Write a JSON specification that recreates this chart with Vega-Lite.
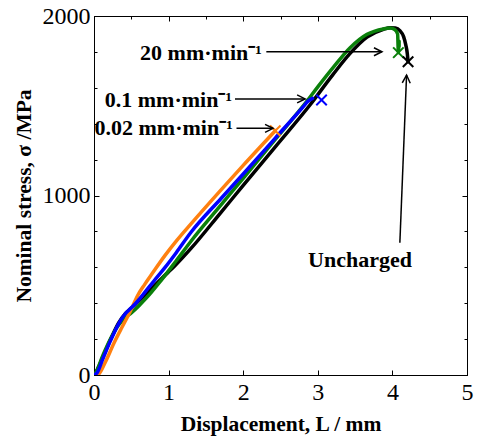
{
  "$schema": "https://vega.github.io/schema/vega-lite/v6.json",
  "width": 373,
  "height": 359,
  "autosize": {"type": "none"},
  "padding": {"left": 94, "top": 16, "right": 13, "bottom": 62},
  "background": "white",
  "config": {
    "view": {"stroke": "black", "strokeWidth": 1},
    "font": "Liberation Serif",
    "axis": {
      "grid": false,
      "domainColor": "black",
      "tickColor": "black",
      "tickWidth": 1,
      "labelColor": "black",
      "titleColor": "black",
      "labelFont": "Liberation Serif",
      "titleFont": "Liberation Serif",
      "labelFontSize": 24,
      "titleFontSize": 21.5,
      "titleFontWeight": "bold",
      "labelFlush": false,
      "labelOverlap": false
    }
  },
  "datasets": {
    "curves": [
      {"s": "Uncharged", "x": 0, "y": 0}, {"s": "Uncharged", "x": 0.05, "y": 35}, {"s": "Uncharged", "x": 0.12, "y": 100}, {"s": "Uncharged", "x": 0.22, "y": 196}, {"s": "Uncharged", "x": 0.33, "y": 290}, {"s": "Uncharged", "x": 0.42, "y": 342}, {"s": "Uncharged", "x": 0.47, "y": 362}, {"s": "Uncharged", "x": 0.55, "y": 392}, {"s": "Uncharged", "x": 0.7, "y": 452}, {"s": "Uncharged", "x": 0.9, "y": 535}, {"s": "Uncharged", "x": 1.1, "y": 615}, {"s": "Uncharged", "x": 1.3, "y": 705}, {"s": "Uncharged", "x": 1.7, "y": 905}, {"s": "Uncharged", "x": 2.0, "y": 1056}, {"s": "Uncharged", "x": 2.43, "y": 1271}, {"s": "Uncharged", "x": 2.895, "y": 1504}, {"s": "Uncharged", "x": 3.2, "y": 1672}, {"s": "Uncharged", "x": 3.43, "y": 1790}, {"s": "Uncharged", "x": 3.66, "y": 1882}, {"s": "Uncharged", "x": 3.88, "y": 1926}, {"s": "Uncharged", "x": 3.97, "y": 1935}, {"s": "Uncharged", "x": 4.04, "y": 1933}, {"s": "Uncharged", "x": 4.1, "y": 1918}, {"s": "Uncharged", "x": 4.15, "y": 1885}, {"s": "Uncharged", "x": 4.18, "y": 1838}, {"s": "Uncharged", "x": 4.2, "y": 1790}, {"s": "Uncharged", "x": 4.21, "y": 1745},
      {"s": "20", "x": 0, "y": 0}, {"s": "20", "x": 0.03, "y": 18}, {"s": "20", "x": 0.12, "y": 110}, {"s": "20", "x": 0.22, "y": 200}, {"s": "20", "x": 0.33, "y": 278}, {"s": "20", "x": 0.42, "y": 320}, {"s": "20", "x": 0.5, "y": 346}, {"s": "20", "x": 0.6, "y": 385}, {"s": "20", "x": 0.7, "y": 428}, {"s": "20", "x": 0.89, "y": 522}, {"s": "20", "x": 1.1, "y": 635}, {"s": "20", "x": 1.3, "y": 745}, {"s": "20", "x": 1.7, "y": 946}, {"s": "20", "x": 2.0, "y": 1096}, {"s": "20", "x": 2.43, "y": 1312}, {"s": "20", "x": 2.85, "y": 1523}, {"s": "20", "x": 3.0, "y": 1605}, {"s": "20", "x": 3.21, "y": 1715}, {"s": "20", "x": 3.43, "y": 1822}, {"s": "20", "x": 3.66, "y": 1898}, {"s": "20", "x": 3.88, "y": 1928}, {"s": "20", "x": 3.97, "y": 1933}, {"s": "20", "x": 4.03, "y": 1925}, {"s": "20", "x": 4.07, "y": 1900}, {"s": "20", "x": 4.09, "y": 1860}, {"s": "20", "x": 4.09, "y": 1830}, {"s": "20", "x": 4.08, "y": 1796},
      {"s": "0.02", "x": 0, "y": 0}, {"s": "0.02", "x": 0.06, "y": 5}, {"s": "0.02", "x": 0.15, "y": 70}, {"s": "0.02", "x": 0.27, "y": 180}, {"s": "0.02", "x": 0.37, "y": 262}, {"s": "0.02", "x": 0.45, "y": 325}, {"s": "0.02", "x": 0.52, "y": 385}, {"s": "0.02", "x": 0.58, "y": 439}, {"s": "0.02", "x": 0.68, "y": 505}, {"s": "0.02", "x": 0.78, "y": 565}, {"s": "0.02", "x": 0.95, "y": 665}, {"s": "0.02", "x": 1.11, "y": 750}, {"s": "0.02", "x": 1.3, "y": 842}, {"s": "0.02", "x": 1.7, "y": 1030}, {"s": "0.02", "x": 2.0, "y": 1168}, {"s": "0.02", "x": 2.43, "y": 1361},
      {"s": "0.1", "x": 0, "y": 0}, {"s": "0.1", "x": 0.04, "y": 12}, {"s": "0.1", "x": 0.12, "y": 92}, {"s": "0.1", "x": 0.22, "y": 190}, {"s": "0.1", "x": 0.33, "y": 285}, {"s": "0.1", "x": 0.42, "y": 342}, {"s": "0.1", "x": 0.47, "y": 362}, {"s": "0.1", "x": 0.56, "y": 400}, {"s": "0.1", "x": 0.67, "y": 455}, {"s": "0.1", "x": 0.8, "y": 522}, {"s": "0.1", "x": 0.95, "y": 598}, {"s": "0.1", "x": 1.1, "y": 680}, {"s": "0.1", "x": 1.3, "y": 795}, {"s": "0.1", "x": 1.7, "y": 982}, {"s": "0.1", "x": 2.0, "y": 1120}, {"s": "0.1", "x": 2.43, "y": 1320}, {"s": "0.1", "x": 2.8, "y": 1492}, {"s": "0.1", "x": 2.87, "y": 1526}, {"s": "0.1", "x": 2.93, "y": 1541}
    ],
    "ends": [
      {"s": "0.02", "x": 2.43, "y": 1361},
      {"s": "0.1", "x": 3.05, "y": 1532},
      {"s": "20", "x": 4.08, "y": 1796},
      {"s": "Uncharged", "x": 4.21, "y": 1745}
    ],
    "rateLabels": [
      {"t": "20 mm·min⁻¹", "x": 2.25, "y": 1794},
      {"t": "0.1 mm·min⁻¹", "x": 1.85, "y": 1532},
      {"t": "0.02 mm·min⁻¹", "x": 1.86, "y": 1376}
    ],
    "uncharged": [
      {"t": "Uncharged", "x": 3.565, "y": 640}
    ],
    "hArrows": [
      {"x": 2.31, "x2": 3.86, "y": 1801},
      {"x": 1.89, "x2": 2.83, "y": 1538},
      {"x": 1.91, "x2": 2.40, "y": 1374}
    ],
    "vArrow": [
      {"x": 4.10, "y": 737, "x2": 4.19, "y2": 1671}
    ]
  },
  "layer": [
    {
      "data": {"name": "curves"},
      "mark": {"type": "line", "strokeWidth": 3.5, "strokeCap": "round", "strokeJoin": "round", "interpolate": "monotone", "clip": true},
      "encoding": {
        "x": {
          "field": "x", "type": "quantitative",
          "scale": {"domain": [0, 5], "nice": false, "zero": false},
          "axis": {
            "orient": "bottom",
            "values": [0, 0.5, 1, 1.5, 2, 2.5, 3, 3.5, 4, 4.5, 5],
            "format": "d",
            "labelExpr": "datum.value % 1 === 0 ? datum.label : ''",
            "tickSize": {"condition": {"test": "datum.value % 1 === 0", "value": -5}, "value": -3},
            "labelPadding": 10,
            "title": "Displacement, L / mm",
            "titlePadding": 9
          }
        },
        "y": {
          "field": "y", "type": "quantitative",
          "scale": {"domain": [0, 2000], "nice": false, "zero": false},
          "axis": {
            "orient": "left",
            "values": [0, 200, 400, 600, 800, 1000, 1200, 1400, 1600, 1800, 2000],
            "labelExpr": "datum.value % 1000 === 0 ? datum.label : ''",
            "format": "d",
            "tickSize": {"condition": {"test": "datum.value % 1000 === 0", "value": -5}, "value": -3},
            "labelPadding": 9,
            "title": "Nominal stress, σ /MPa",
            "titlePadding": 7
          }
        },
        "color": {
          "field": "s", "type": "nominal",
          "scale": {"domain": ["Uncharged", "20", "0.02", "0.1"], "range": ["#000000", "#0a800a", "#ff8010", "#0000ff"]},
          "legend": null
        },
        "strokeWidth": {
          "field": "s", "type": "nominal",
          "scale": {"domain": ["Uncharged", "20", "0.02", "0.1"], "range": [4.5, 4, 3, 3]},
          "legend": null
        }
      }
    },
    {
      "data": {"name": "ends"},
      "mark": {"type": "point", "shape": "M-1,-1L1,1M-1,1L1,-1", "size": 110, "strokeWidth": 2, "filled": false, "opacity": 1},
      "encoding": {
        "x": {
          "field": "x", "type": "quantitative",
          "axis": {
            "orient": "top",
            "values": [0, 0.5, 1, 1.5, 2, 2.5, 3, 3.5, 4, 4.5, 5],
            "labels": false,
            "tickSize": {"condition": {"test": "datum.value % 1 === 0", "value": -5}, "value": -3},
            "title": null
          }
        },
        "y": {
          "field": "y", "type": "quantitative",
          "axis": {
            "orient": "right",
            "values": [0, 200, 400, 600, 800, 1000, 1200, 1400, 1600, 1800, 2000],
            "labels": false,
            "tickSize": {"condition": {"test": "datum.value % 1000 === 0", "value": -5}, "value": -3},
            "title": null
          }
        },
        "color": {"field": "s", "type": "nominal", "legend": null}
      }
    },
    {
      "data": {"name": "hArrows"},
      "mark": {"type": "rule", "color": "black", "strokeWidth": 1.5},
      "encoding": {
        "x": {"field": "x", "type": "quantitative", "axis": null},
        "x2": {"field": "x2"},
        "y": {"field": "y", "type": "quantitative", "axis": null}
      }
    },
    {
      "data": {"name": "hArrows"},
      "mark": {"type": "point", "shape": "M-1.6,-0.8L0,0L-1.6,0.8", "size": 100, "strokeWidth": 1.5, "filled": false, "color": "black", "opacity": 1},
      "encoding": {
        "x": {"field": "x2", "type": "quantitative", "axis": null},
        "y": {"field": "y", "type": "quantitative", "axis": null}
      }
    },
    {
      "data": {"name": "vArrow"},
      "mark": {"type": "rule", "color": "black", "strokeWidth": 1.5},
      "encoding": {
        "x": {"field": "x", "type": "quantitative", "axis": null},
        "x2": {"field": "x2"},
        "y": {"field": "y", "type": "quantitative", "axis": null},
        "y2": {"field": "y2"}
      }
    },
    {
      "data": {"name": "vArrow"},
      "mark": {"type": "point", "shape": "M-1.6,-0.8L0,0L-1.6,0.8", "size": 100, "strokeWidth": 1.5, "filled": false, "color": "black", "opacity": 1, "angle": 272.3},
      "encoding": {
        "x": {"field": "x2", "type": "quantitative", "axis": null},
        "y": {"field": "y2", "type": "quantitative", "axis": null}
      }
    },
    {
      "data": {"name": "rateLabels"},
      "mark": {"type": "text", "align": "right", "baseline": "middle", "font": "Liberation Serif", "fontWeight": "bold", "fontSize": 22, "color": "black"},
      "encoding": {
        "x": {"field": "x", "type": "quantitative", "axis": null},
        "y": {"field": "y", "type": "quantitative", "axis": null},
        "text": {"field": "t"}
      }
    },
    {
      "data": {"name": "uncharged"},
      "mark": {"type": "text", "align": "center", "baseline": "middle", "font": "Liberation Serif", "fontWeight": "bold", "fontSize": 22, "color": "black"},
      "encoding": {
        "x": {"field": "x", "type": "quantitative", "axis": null},
        "y": {"field": "y", "type": "quantitative", "axis": null},
        "text": {"field": "t"}
      }
    }
  ],
  "resolve": {"axis": {"x": "independent", "y": "independent"}}
}
